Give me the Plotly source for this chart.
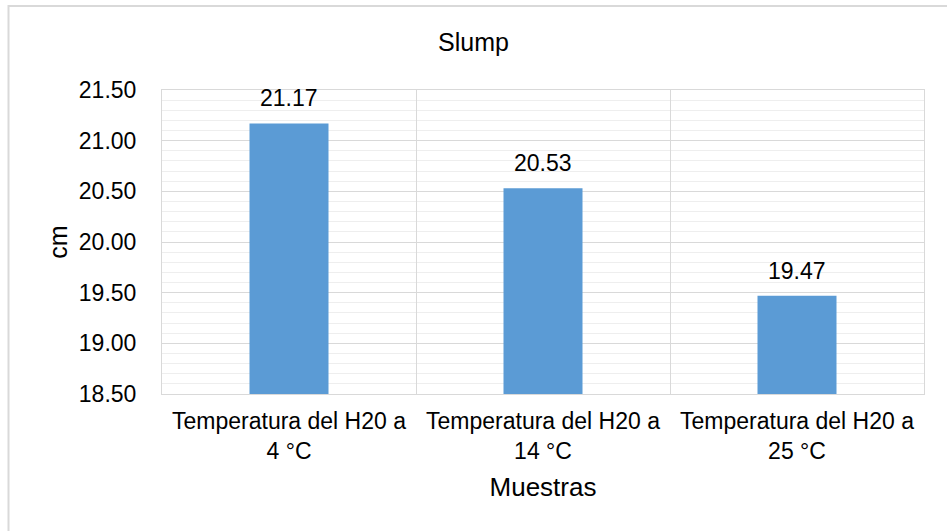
import plotly.graph_objects as go

categories = ["Temperatura del H20 a<br>4 °C", "Temperatura del H20 a<br>14 °C", "Temperatura del H20 a<br>25 °C"]
values = [21.17, 20.53, 19.47]
y_ticks = [18.5, 19.0, 19.5, 20.0, 20.5, 21.0, 21.5]
y_tick_labels = ["18.50", "19.00", "19.50", "20.00", "20.50", "21.00", "21.50"]

W, H = 947, 531
L, R, T, B = 162, 23, 90, 137
FONT = "Liberation Sans, Arial"

fig = go.Figure(go.Bar(
    x=categories, y=values,
    marker=dict(color="#5B9BD5", line=dict(width=0)),
    width=0.311,
    hoverinfo="x+y",
))

for c, v in zip(categories, values):
    fig.add_annotation(x=c, y=v, text=f"{v:.2f}", showarrow=False,
                       xanchor="center", yanchor="bottom", yshift=10,
                       font=dict(family=FONT, size=23, color="#000000"))

fig.update_layout(
    width=W, height=H,
    margin=dict(l=L, r=R, t=T, b=B),
    paper_bgcolor="white", plot_bgcolor="white",
    font=dict(family=FONT, color="#000000"),
    title=dict(text="Slump", x=0.5, xref="container", xanchor="center",
               y=1 - 42 / H, yref="container", yanchor="middle",
               font=dict(size=25, color="#000000")),
    showlegend=False,
)

fig.update_xaxes(
    type="category",
    showgrid=True, gridcolor="#d9d9d9", gridwidth=1,
    tickson="boundaries", ticks="", ticklabelstandoff=6,
    showline=True, linecolor="#d9d9d9", linewidth=1, mirror=True,
    tickfont=dict(size=23, color="#000000"),
    title=dict(text="Muestras", font=dict(size=26, color="#000000"), standoff=15),
)

fig.update_yaxes(
    range=[18.5, 21.5],
    tickvals=y_ticks, ticktext=y_tick_labels,
    showgrid=True, gridcolor="#d9d9d9", gridwidth=1,
    minor=dict(dtick=0.1, showgrid=True, gridcolor="#eeeeee", gridwidth=1, ticks=""),
    showline=True, linecolor="#d9d9d9", linewidth=1, mirror=True,
    zeroline=False,
    ticks="", ticklabelstandoff=20,
    tickfont=dict(size=23, color="#000000"),
    title=dict(text="cm", font=dict(size=25, color="#000000"), standoff=4),
)

# chart border (extends beyond right and bottom edges as in the reference)
pw, ph = W - L - R, H - T - B
fig.add_shape(type="rect", xref="paper", yref="paper",
              x0=(8.5 - L) / pw, x1=(W + 10 - L) / pw,
              y0=(H - B - (H + 10)) / ph, y1=(H - B - 6) / ph,
              line=dict(color="#d9d9d9", width=2), fillcolor="rgba(0,0,0,0)", layer="below")

fig.write_html("out.html")
